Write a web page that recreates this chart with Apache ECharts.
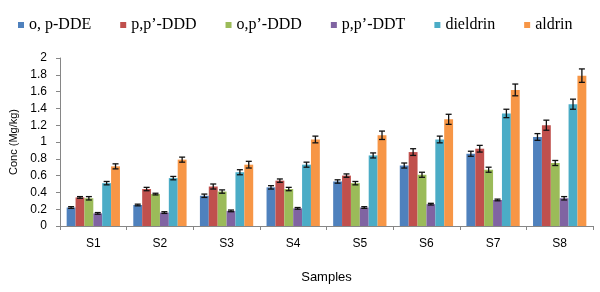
<!DOCTYPE html>
<html>
<head>
<meta charset="utf-8">
<script src="https://cdn.jsdelivr.net/npm/echarts@6/dist/echarts.min.js"></script>
<style>
  html, body { margin: 0; padding: 0; background: #fff; }
  #chart { width: 600px; height: 292px; }
</style>
</head>
<body>
<div id="chart"></div>
<script>
  // categories & series
  var samples = ['S1', 'S2', 'S3', 'S4', 'S5', 'S6', 'S7', 'S8'];
  var names = ['o, p-DDE', 'p,p\u2019-DDD', 'o,p\u2019-DDD', 'p,p\u2019-DDT', 'dieldrin', 'aldrin'];
  var colors = ['#4F81BD', '#C0504D', '#9BBB59', '#8064A2', '#4BACC6', '#F79646'];

  var opDDE    = [0.22, 0.25, 0.36, 0.46, 0.53, 0.72, 0.86, 1.06];
  var ppDDD    = [0.34, 0.44, 0.47, 0.54, 0.60, 0.88, 0.92, 1.20];
  var opDDD    = [0.33, 0.38, 0.41, 0.44, 0.51, 0.61, 0.67, 0.75];
  var ppDDT    = [0.15, 0.16, 0.18, 0.21, 0.22, 0.26, 0.31, 0.33];
  var dieldrin = [0.51, 0.57, 0.64, 0.73, 0.84, 1.03, 1.34, 1.45];
  var aldrin   = [0.71, 0.79, 0.73, 1.03, 1.08, 1.27, 1.62, 1.79];

  // error bar half-heights
  var opDDEErr    = [0.01, 0.01, 0.02, 0.02, 0.02, 0.03, 0.03, 0.04];
  var ppDDDErr    = [0.01, 0.02, 0.03, 0.02, 0.02, 0.04, 0.04, 0.06];
  var opDDDErr    = [0.02, 0.01, 0.02, 0.02, 0.02, 0.03, 0.03, 0.03];
  var ppDDTErr    = [0.01, 0.01, 0.01, 0.01, 0.01, 0.01, 0.01, 0.02];
  var dieldrinErr = [0.02, 0.02, 0.03, 0.03, 0.03, 0.04, 0.05, 0.06];
  var aldrinErr   = [0.03, 0.03, 0.04, 0.04, 0.05, 0.06, 0.07, 0.08];

  var values = [opDDE, ppDDD, opDDD, ppDDT, dieldrin, aldrin];
  var errors = [opDDEErr, ppDDDErr, opDDDErr, ppDDTErr, dieldrinErr, aldrinErr];

  var nBars = names.length;
  var groupFrac = 0.8;

  function errSeries(i) {
    return {
      name: 'err' + i,
      type: 'custom',
      z: 5,
      silent: true,
      data: values[i].map(function (v, k) { return [k, v, errors[i][k]]; }),
      renderItem: function (params, api) {
        var cat = api.value(0), v = api.value(1), e = api.value(2);
        var band = api.size([1, 0])[0];
        var bw = band * groupFrac / nBars;
        var x = api.coord([cat, v])[0] + (i - (nBars - 1) / 2) * bw;
        var y1 = api.coord([cat, v + e])[1];
        var y2 = api.coord([cat, v - e])[1];
        var cap = 3;
        var st = { stroke: '#111', lineWidth: 1.3 };
        return {
          type: 'group',
          children: [
            { type: 'line', shape: { x1: x, y1: y1, x2: x, y2: y2 }, style: st },
            { type: 'line', shape: { x1: x - cap, y1: y1, x2: x + cap, y2: y1 }, style: st },
            { type: 'line', shape: { x1: x - cap, y1: y2, x2: x + cap, y2: y2 }, style: st }
          ]
        };
      }
    };
  }

  var series = [];
  names.forEach(function (n, i) {
    series.push({
      name: n,
      type: 'bar',
      data: values[i],
      barGap: '0%',
      barCategoryGap: '20%',
      itemStyle: { color: colors[i] }
    });
  });
  names.forEach(function (n, i) { series.push(errSeries(i)); });

  var chart = echarts.init(document.getElementById('chart'));
  chart.setOption({
    animation: false,
    color: colors,
    legend: {
      data: names,
      left: 13,
      top: 12,
      icon: 'rect',
      itemWidth: 6,
      itemHeight: 6,
      itemGap: 29,
      textStyle: { fontFamily: 'Liberation Serif', fontSize: 16, color: '#000' }
    },
    grid: { left: 60, right: 7, top: 58, bottom: 66 },
    xAxis: {
      type: 'category',
      data: samples,
      name: 'Samples',
      nameLocation: 'middle',
      nameGap: 45,
      nameTextStyle: { fontFamily: 'Liberation Sans', fontSize: 13, color: '#000' },
      axisLine: { lineStyle: { color: '#868686' } },
      axisTick: { show: true, length: 4, lineStyle: { color: '#868686' } },
      axisLabel: { fontFamily: 'Liberation Sans', fontSize: 12, color: '#000', margin: 12 }
    },
    yAxis: {
      type: 'value',
      min: 0,
      max: 2,
      interval: 0.2,
      name: 'Conc (Mg/kg)',
      nameLocation: 'middle',
      nameGap: 37,
      nameTextStyle: { fontFamily: 'Liberation Sans', fontSize: 11, color: '#000' },
      axisLine: { show: true, lineStyle: { color: '#868686' } },
      axisTick: { show: true, length: 4, lineStyle: { color: '#868686' } },
      splitLine: { show: false },
      axisLabel: {
        fontFamily: 'Liberation Sans', fontSize: 12, color: '#000', margin: 13,
        formatter: function (v) { return String(Math.round(v * 10) / 10); }
      }
    },
    series: series
  });
</script>
</body>
</html>
